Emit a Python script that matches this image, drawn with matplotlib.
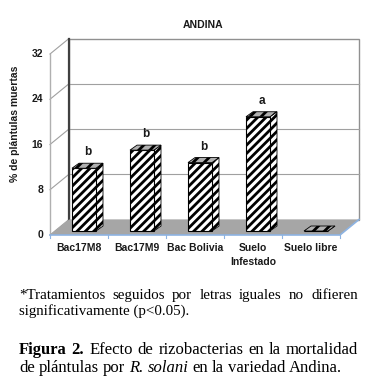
import matplotlib
matplotlib.use('Agg')
from matplotlib import pyplot as plt
from matplotlib.patches import Polygon, Rectangle

categories = ['Bac17M8', 'Bac17M9', 'Bac Bolivia', 'Suelo\nInfestado', 'Suelo libre']
mortality = [11.1, 14.3, 12.1, 20.2, 0.0]
letters = ['b', 'b', 'b', 'a', '']
y_ticks = [0, 8, 16, 24, 32]

note_words = ['*Tratamientos', 'seguidos', 'por', 'letras', 'iguales', 'no', 'difieren']
note_line2 = 'significativamente (p<0.05).'
caption_line1 = [('Figura', 'bold'), ('2.', 'bold'), ('Efecto', 'normal'), ('de', 'normal'),
                 ('rizobacterias', 'normal'), ('en', 'normal'), ('la', 'normal'), ('mortalidad', 'normal')]
caption_line2 = [('de', 'normal'), ('plántulas', 'normal'), ('por', 'normal'), ('R.', 'italic'),
                 ('solani', 'italic'), ('en', 'normal'), ('la', 'normal'), ('variedad', 'normal'),
                 ('Andina.', 'normal')]

W, H = 384, 385
plt.rcParams['hatch.linewidth'] = 2.0
fig = plt.figure(figsize=(W / 100, H / 100), dpi=100)

# front plane of the 3d box: x 50..340 px, value 0 at y=235, 32 at y=54
ax = fig.add_axes([50 / W, (H - 235) / H, 290 / W, 181 / H])
ax.set_xlim(-0.5, 4.5)
ax.set_ylim(0, 32)
ax.axis('off')

XU = 5 / 290   # data units per pixel
YU = 32 / 181
BX, BY = 19 * XU, 15.5 * YU   # back wall offset
FX, FY = 5 * XU, 4 * YU       # bar front face offset
DX, DY = 7 * XU, 5 * YU       # bar depth
bw = 24 * XU

grid_c = '#a0a0a0'
txt_c = '#1a1a1a'
sans = 'Liberation Sans'
# back wall
ax.add_patch(Rectangle((-0.5 + BX, BY), 5, 32, facecolor='white', edgecolor='#909090',
                       lw=1.0, clip_on=False, zorder=1))
for v in y_ticks[1:-1]:
    ax.plot([-0.5 + BX, 4.5 + BX], [v + BY, v + BY], color=grid_c, lw=0.8, clip_on=False, zorder=1)
ax.plot([-0.5 + BX, -0.5 + BX], [BY, 32 + BY], color='#404040', lw=1.6, clip_on=False, zorder=2)

# left side: diagonal tick lines and front axis
for v in y_ticks:
    ax.plot([-0.5, -0.5 + BX], [v, v + BY], color=grid_c, lw=0.8, clip_on=False, zorder=1)
    ax.text(-0.5 - 7 * XU, v, str(v), ha='right', va='center', fontsize=7.5,
            fontweight='bold', color=txt_c, family=sans)
ax.plot([-0.5, -0.5], [0, 32], color='#b0b0b0', lw=1.0, clip_on=False, zorder=1)

# floor
ax.add_patch(Polygon([(-0.5, 0), (4.5, 0), (4.5 + BX, BY), (-0.5 + BX, BY)],
                     closed=True, facecolor='#a6a6a6', edgecolor='none', clip_on=False, zorder=2))
ax.plot([-0.5, 4.5, 4.5 + BX], [0, 0, BY], color='#8db3e2', lw=1.2, clip_on=False, zorder=3)
for k in range(6):
    ax.plot([k - 0.5, k - 0.5], [0, -3 * YU], color='#8db3e2', lw=0.8, clip_on=False, zorder=3)

# bars
for i, v in enumerate(mortality):
    x0 = i - bw / 2 + FX
    ax.add_patch(Polygon([(x0 + bw, FY), (x0 + bw + DX, FY + DY), (x0 + bw + DX, FY + v + DY),
                          (x0 + bw, FY + v)], closed=True, facecolor='white', edgecolor='black',
                         hatch='////', lw=0.6, clip_on=False, zorder=4))
    ax.add_patch(Rectangle((x0, FY), bw, v, facecolor='white', edgecolor='black', hatch='////',
                           lw=0.8, clip_on=False, zorder=5))
    ax.add_patch(Polygon([(x0, FY + v), (x0 + bw, FY + v), (x0 + bw + DX, FY + v + DY),
                          (x0 + DX, FY + v + DY)], closed=True, facecolor='#b0b0b0',
                         edgecolor='black', hatch='///', lw=0.6, clip_on=False, zorder=5))
    if letters[i]:
        ax.text(x0 + (bw + DX) / 2, FY + v + DY + 5 * YU, letters[i], ha='center', va='bottom',
                fontsize=8.5, fontweight='bold', color=txt_c, family=sans)
    ax.text(i, -8 * YU, categories[i], ha='center', va='top', fontsize=7.5, fontweight='bold',
            color=txt_c, linespacing=1.45, family=sans)

fig.text(203 / W, 1 - 25 / H, 'ANDINA', ha='center', va='center', fontsize=7.5,
         fontweight='bold', color=txt_c, family=sans)
fig.text(15 / W, 1 - 124 / H, '% de plántulas muertas', ha='center', va='center', rotation=90,
         fontsize=7.5, fontweight='bold', color=txt_c, family=sans)

# caption text
renderer = fig.canvas.get_renderer()


def place_words(words, y, x0, x1=None, size=9, gap=None):
    texts = []
    for w, style in words:
        kw = {'fontweight': 'bold'} if style == 'bold' else {}
        if style == 'italic':
            kw['fontstyle'] = 'italic'
        texts.append(fig.text(0, 1 - y / H, w, ha='left', va='baseline', fontsize=size,
                              family='Liberation Serif', **kw))
    widths = [t.get_window_extent(renderer).width for t in texts]
    if x1 is not None:
        gap = (x1 - x0 - sum(widths)) / (len(texts) - 1)
    x = x0
    for t, wd in zip(texts, widths):
        t.set_x(x / W)
        x += wd + gap


place_words([(w, 'normal') for w in note_words], 299, 19, 358, size=10.8)
fig.text(19 / W, 1 - 315 / H, note_line2, ha='left', va='baseline', fontsize=10.8,
         family='Liberation Serif')
place_words(caption_line1, 354, 19, 358, size=12)
place_words(caption_line2, 372, 19, size=12, gap=4)

fig.savefig('out.png', dpi=100)
